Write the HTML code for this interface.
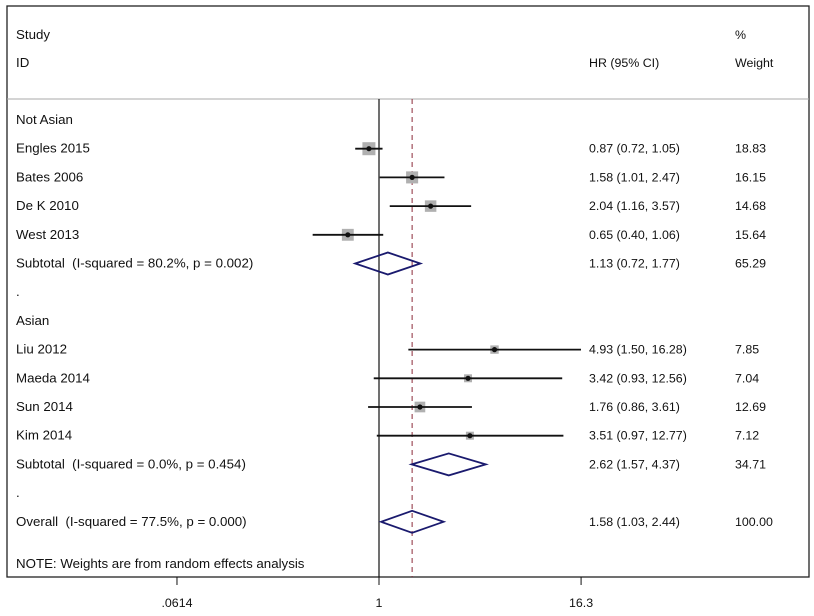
<!DOCTYPE html>
<html><head><meta charset="utf-8"><style>
body{margin:0;background:#fff;}
svg text{font-family:"Liberation Sans",Arial,sans-serif;font-size:12.4px;fill:#111;white-space:pre;}
svg text.lab{font-size:13.3px;}
</style></head><body>
<svg id="c" width="814" height="611" xmlns="http://www.w3.org/2000/svg">
<rect x="7" y="6" width="802" height="571" fill="#fff" stroke="#222" stroke-width="1.3"/>
<line x1="7" y1="99" x2="809" y2="99" stroke="#aaa"/>
<text class="lab" x="16" y="39">Study</text>
<text class="lab" x="16" y="67">ID</text>
<text x="589" y="67">HR (95% CI)</text>
<text x="735" y="39">%</text>
<text x="735" y="67">Weight</text>
<text class="lab" x="16" y="568">NOTE: Weights are from random effects analysis</text>
</svg>
<script>
const labels=["Not Asian","Engles 2015","Bates 2006","De K 2010","West 2013","Subtotal  (I-squared = 80.2%, p = 0.002)",".","Asian","Liu 2012","Maeda 2014","Sun 2014","Kim 2014","Subtotal  (I-squared = 0.0%, p = 0.454)",".","Overall  (I-squared = 77.5%, p = 0.000)"];
const kinds=["h","s","s","s","s","d","b","h","s","s","s","s","d","b","d"];
const hr=[null,0.87,1.58,2.04,0.65,1.13,null,null,4.93,3.42,1.76,3.51,2.62,null,1.58];
const lo=[null,0.72,1.01,1.16,0.40,0.72,null,null,1.50,0.93,0.86,0.97,1.57,null,1.03];
const hi=[null,1.05,2.47,3.57,1.06,1.77,null,null,16.28,12.56,3.61,12.77,4.37,null,2.44];
const weights=[null,18.83,16.15,14.68,15.64,65.29,null,null,7.85,7.04,12.69,7.12,34.71,null,100.00];
const ticks=[0.0614,1,16.3];
const tickLabels=[".0614","1","16.3"];
const overall=1.58;
const svg=document.getElementById('c');
const NS="http://www.w3.org/2000/svg";
const x=v=>379+Math.log(v)*72.4;
const y=i=>120+i*28.7;
function mk(t,a){const e=document.createElementNS(NS,t);for(const k in a)e.setAttribute(k,a[k]);svg.appendChild(e);return e;}
let e;
e=mk('line',{x1:x(1),y1:99,x2:x(1),y2:577,stroke:'#111','stroke-width':1.2});


e=mk('line',{x1:x(overall),y1:99,x2:x(overall),y2:577,stroke:'#8b2a3a','stroke-dasharray':'5,4'});


ticks.forEach((t,i)=>{
 e=mk('line',{x1:x(t),y1:577,x2:x(t),y2:585,stroke:'#111'});
 
 
 e=mk('text',{x:x(t),y:607,'text-anchor':'middle'});e.textContent=tickLabels[i];
 
 
});
labels.forEach((l,i)=>{
 const yy=y(i);
 e=mk('text',{x:16,y:yy+4,'class':'lab'});e.textContent=l;
 
 
 if(hr[i]==null)return;
 e=mk('text',{x:589,y:yy+4});e.textContent=hr[i].toFixed(2)+" ("+lo[i].toFixed(2)+", "+hi[i].toFixed(2)+")";
 
 
 e=mk('text',{x:735,y:yy+4});e.textContent=weights[i].toFixed(2);
 
 
 if(kinds[i]=='s'){
  const s=3*Math.sqrt(weights[i]);
  e=mk('rect',{x:x(hr[i])-s/2,y:yy-s/2,width:s,height:s,fill:'#b0b0b0'});
  
  
  e=mk('line',{x1:x(lo[i]),y1:yy,x2:x(hi[i]),y2:yy,stroke:'#111','stroke-width':1.8});
  
  
  e=mk('circle',{cx:x(hr[i]),cy:yy,r:2.6,fill:'#111'});
  
  
 }else{
  const a=x(lo[i]),b=x(hr[i]),c=x(hi[i]);
  e=mk('polygon',{points:`${a},${yy} ${b},${yy-11} ${c},${yy} ${b},${yy+11}`,fill:'none',stroke:'#1a1a6e','stroke-width':1.8});
  
  
 }
});
</script>
</body></html>
